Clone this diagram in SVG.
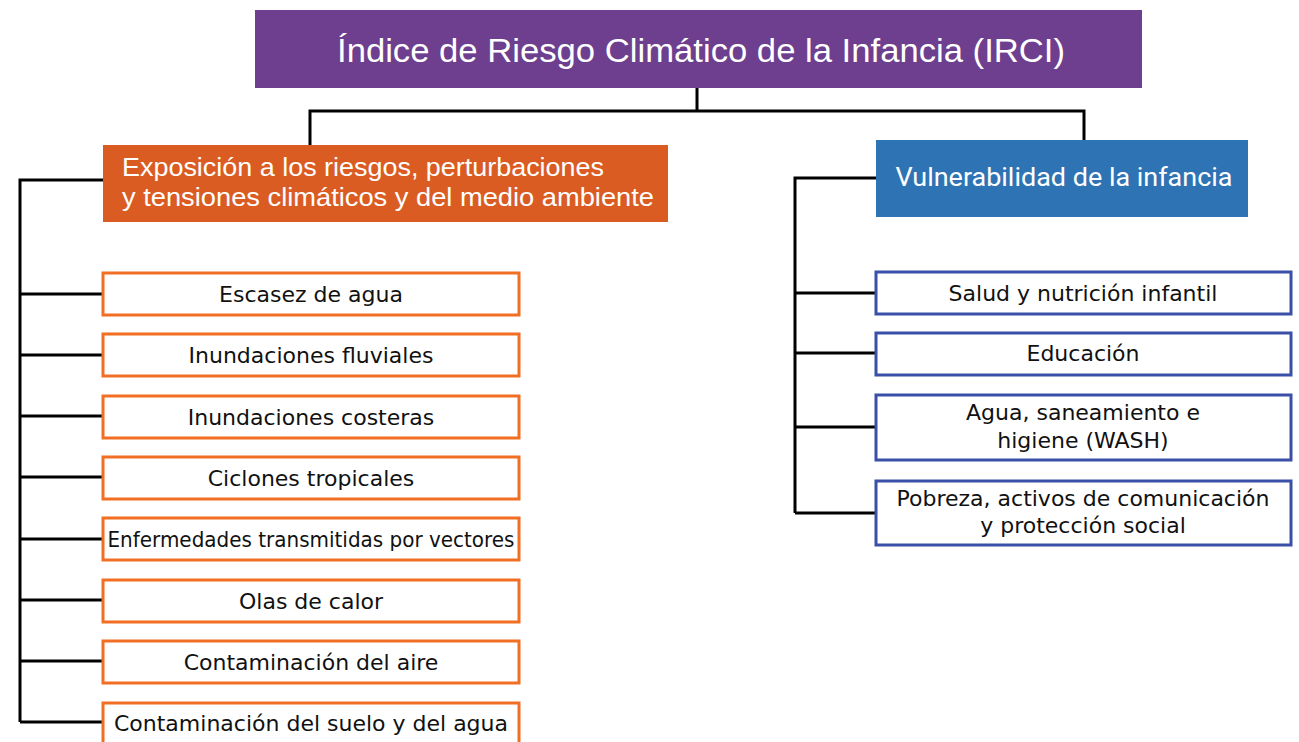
<svg xmlns="http://www.w3.org/2000/svg" width="1299" height="742" viewBox="0 0 1299 742">
<style>
.conn{fill:none;stroke:#000;stroke-width:3}
.ob{fill:#fff;stroke:#F26E22;stroke-width:3}
.bb{fill:#fff;stroke:#3A4FA8;stroke-width:3}
.t{font-family:"DejaVu Sans",sans-serif;font-size:22px;fill:#111;text-anchor:middle}
.cond{font-family:"Liberation Sans Narrow","Liberation Sans",sans-serif;fill:#fff}
</style>
<rect width="1299" height="742" fill="#fff"/>
<g id="connectors">
<path class="conn" d="M697 88V111M310 145V111H1084V140"/>
<path class="conn" d="M103 180H20V722M20 294H103M20 355H103M20 416H103M20 477H103M20 539H103M20 600H103M20 661H103M20 722H103"/>
<path class="conn" d="M876 178H795V513M795 293H876M795 353H876M795 427H876M795 513H876"/>
</g>
<g id="title">
<rect x="255" y="10" width="887" height="78" fill="#6D3F8E"/>
<text class="cond" x="337" y="62" font-size="33" textLength="728" lengthAdjust="spacingAndGlyphs">Índice de Riesgo Climático de la Infancia (IRCI)</text>
</g>
<g id="exposicion">
<rect x="103" y="145" width="565" height="77" fill="#DA5C22"/>
<text class="cond" x="122" y="176" font-size="25" textLength="482" lengthAdjust="spacingAndGlyphs">Exposición a los riesgos, perturbaciones</text>
<text class="cond" x="122" y="206" font-size="25" textLength="532" lengthAdjust="spacingAndGlyphs">y tensiones climáticos y del medio ambiente</text>
</g>
<g id="vulnerabilidad">
<rect x="876" y="140" width="372" height="77" fill="#2E74B5"/>
<text x="1064" y="186" font-family="Roboto,sans-serif" font-size="25" fill="#fff" text-anchor="middle" textLength="337" lengthAdjust="spacingAndGlyphs">Vulnerabilidad de la infancia</text>
</g>
<g id="e1"><rect class="ob" x="103" y="273" width="416" height="42"/><text class="t" x="311" y="302">Escasez de agua</text></g>
<g id="e2"><rect class="ob" x="103" y="334" width="416" height="42"/><text class="t" x="311" y="363">Inundaciones fluviales</text></g>
<g id="e3"><rect class="ob" x="103" y="396" width="416" height="42"/><text class="t" x="311" y="425">Inundaciones costeras</text></g>
<g id="e4"><rect class="ob" x="103" y="457" width="416" height="42"/><text class="t" x="311" y="486">Ciclones tropicales</text></g>
<g id="e5"><rect class="ob" x="103" y="518" width="416" height="42"/><text class="t" x="311" y="547" textLength="407" lengthAdjust="spacingAndGlyphs">Enfermedades transmitidas por vectores</text></g>
<g id="e6"><rect class="ob" x="103" y="580" width="416" height="42"/><text class="t" x="311" y="609">Olas de calor</text></g>
<g id="e7"><rect class="ob" x="103" y="641" width="416" height="42"/><text class="t" x="311" y="670">Contaminación del aire</text></g>
<g id="e8"><rect class="ob" x="103" y="703" width="416" height="42"/><text class="t" x="311" y="731">Contaminación del suelo y del agua</text></g>
<g id="v1"><rect class="bb" x="876" y="272" width="415" height="42"/><text class="t" x="1083" y="301">Salud y nutrición infantil</text></g>
<g id="v2"><rect class="bb" x="876" y="333" width="415" height="42"/><text class="t" x="1083" y="361">Educación</text></g>
<g id="v3"><rect class="bb" x="876" y="395" width="415" height="65"/><text class="t" x="1083" y="420">Agua, saneamiento e</text><text class="t" x="1083" y="448">higiene (WASH)</text></g>
<g id="v4"><rect class="bb" x="876" y="481" width="415" height="64"/><text class="t" x="1083" y="506">Pobreza, activos de comunicación</text><text class="t" x="1083" y="533">y protección social</text></g>
</svg>
